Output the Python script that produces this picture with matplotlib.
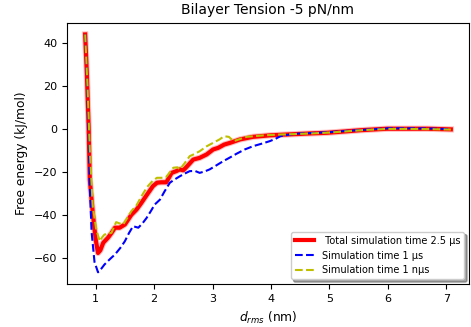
import matplotlib
matplotlib.use("Agg")
import matplotlib.pyplot as plt

# Total simulation time 2.5 us (red)
x_red = [0.82, 0.85, 0.88, 0.90, 0.95, 1.00, 1.04, 1.08, 1.13, 1.21, 1.27, 1.33, 1.41, 1.50,
         1.61, 1.70, 1.78, 1.88, 1.98, 2.05, 2.12, 2.21, 2.30, 2.38, 2.44, 2.50, 2.56, 2.67,
         2.78, 2.90, 3.01, 3.10, 3.20, 3.30, 3.47, 3.69, 3.98, 4.27, 4.67, 4.96, 5.30, 5.53,
         5.99, 6.30, 6.67, 7.08]
y_red = [44.2, 25.0, 0.0, -23.6, -39.0, -51.5, -57.8, -56.5, -53.0, -50.7, -48.5, -46.0, -46.0, -44.5,
         -40.0, -37.5, -34.5, -30.5, -26.6, -25.0, -24.8, -24.8, -20.4, -19.6, -18.8, -19.2, -17.5, -14.2,
         -13.4, -11.8, -9.5, -8.7, -7.2, -6.4, -4.8, -3.6, -2.9, -2.5, -2.0, -1.7, -1.0, -0.5,
         0.2, 0.2, 0.2, -0.1]

# Simulation time 1 us (blue)
x_blue = [0.82, 0.85, 0.88, 0.90, 0.93, 0.98, 1.04, 1.10, 1.15, 1.25, 1.33, 1.42, 1.50, 1.57, 1.64,
          1.73, 1.80, 1.87, 1.95, 2.01, 2.10, 2.18, 2.27, 2.35, 2.44, 2.52, 2.61, 2.70, 2.78,
          2.86, 2.95, 3.06, 3.18, 3.30, 3.41, 3.55, 3.70, 3.84, 3.98, 4.08, 4.16, 4.30, 4.44,
          4.70, 5.00, 5.30, 5.60, 6.00, 6.40, 6.70, 7.08]
y_blue = [44.2, 24.0, -2.0, -27.0, -48.0, -62.0, -66.8, -65.0, -63.2, -60.5, -58.5, -55.5, -52.3, -48.5, -45.3,
          -46.0, -44.0, -41.5, -38.0, -35.2, -32.9, -29.0, -25.0, -23.5, -22.0, -20.8, -19.6, -19.5, -20.4,
          -19.8, -18.8, -17.0, -15.0, -13.2, -11.5, -9.5, -7.9, -6.8, -5.6, -4.5, -3.3, -2.6, -2.1,
          -1.8, -1.4, -0.8, -0.3, 0.4, 0.4, 0.3, 0.0]

# Simulation time 1 nus (yellow)
x_yel = [0.82, 0.86, 0.90, 0.95, 1.01, 1.07, 1.11, 1.15, 1.27, 1.35, 1.41, 1.47, 1.54, 1.61,
         1.70, 1.78, 1.88, 1.98, 2.05, 2.13, 2.20, 2.24, 2.33, 2.40, 2.44, 2.52, 2.61, 2.70,
         2.78, 2.90, 3.01, 3.12, 3.20, 3.28, 3.36, 3.45, 3.58, 3.87, 4.16, 4.40, 4.70, 5.00,
         5.30, 5.60, 6.00, 6.40, 6.70, 7.08]
y_yel = [44.2, 20.0, -10.0, -36.0, -46.9, -52.3, -50.5, -49.2, -48.4, -43.4, -44.0, -44.5, -41.5, -38.3,
         -35.5, -31.5, -27.0, -24.0, -22.7, -22.7, -22.5, -21.2, -18.0, -17.8, -18.8, -16.0, -12.6, -11.5,
         -10.3, -8.0, -6.4, -4.8, -3.3, -3.6, -5.6, -4.8, -3.6, -2.9, -2.5, -2.3, -2.0, -1.6,
         -1.0, -0.4, 0.1, 0.1, 0.0, -0.2]

title = "Bilayer Tension -5 pN/nm"
xlabel = r"$d_{rms}$ (nm)"
ylabel = "Free energy (kJ/mol)"
labels = [" Total simulation time 2.5 \u03bcs", "Simulation time 1 \u03bcs", "Simulation time 1 n\u03bcs"]

fig = plt.figure(figsize=(4.71, 3.27), dpi=100)
ax = fig.add_axes([0.142, 0.131, 0.854, 0.8])

ax.plot(x_red, y_red, color='red', lw=4.5, alpha=0.25)
ax.plot(x_red, y_red, color='red', lw=3, label=labels[0])
ax.plot(x_blue, y_blue, color='blue', ls='--', lw=1.5, label=labels[1])
ax.plot(x_yel, y_yel, color='y', ls='--', lw=1.5, label=labels[2])

ax.set_yticks([-60, -40, -20, 0, 20, 40])
ax.set_xticks([1, 2, 3, 4, 5, 6, 7])
ax.tick_params(labelsize=8)
ax.set_title(title, fontsize=10)
ax.set_xlabel(xlabel, fontsize=8.8)
ax.set_ylabel(ylabel, fontsize=8.8)
ax.legend(loc='lower right', shadow=True, fontsize=7)

fig.savefig("out.png", dpi=100)
